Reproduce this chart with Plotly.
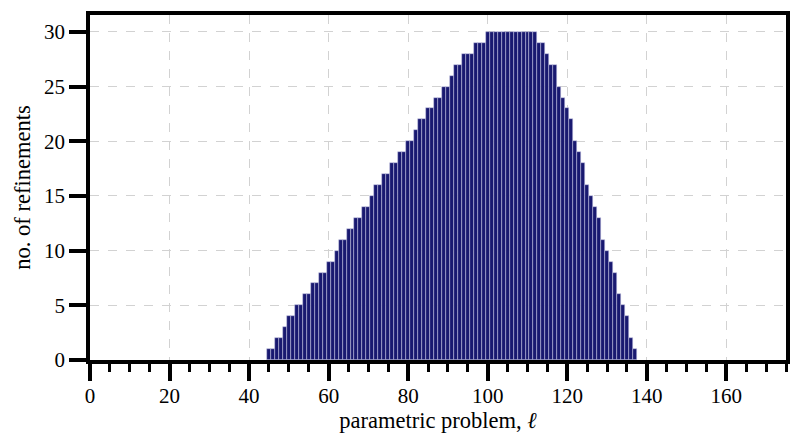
import plotly.graph_objects as go

# parametric problem index (ell) and number of refinements
ell = [45, 46, 47, 48, 49, 50, 51, 52, 53, 54, 55, 56, 57, 58, 59, 60, 61, 62, 63, 64,
       65, 66, 67, 68, 69, 70, 71, 72, 73, 74, 75, 76, 77, 78, 79, 80, 81, 82, 83, 84,
       85, 86, 87, 88, 89, 90, 91, 92, 93, 94, 95, 96, 97, 98, 99, 100, 101, 102, 103, 104,
       105, 106, 107, 108, 109, 110, 111, 112, 113, 114, 115, 116, 117, 118, 119, 120, 121, 122, 123, 124,
       125, 126, 127, 128, 129, 130, 131, 132, 133, 134, 135, 136, 137]
refinements = [1, 1, 2, 2, 3, 4, 4, 5, 5, 6, 6, 7, 7, 8, 8, 9, 9, 10, 11, 11,
               12, 12, 13, 13, 14, 14, 15, 16, 16, 17, 17, 18, 18, 19, 19, 20, 20, 21, 22, 22,
               23, 23, 24, 24, 25, 25, 26, 27, 27, 28, 28, 28, 29, 29, 29, 30, 30, 30, 30, 30,
               30, 30, 30, 30, 30, 30, 30, 30, 29, 29, 28, 27, 27, 25, 24, 23, 22, 20, 19, 18,
               16, 15, 14, 13, 11, 10, 9, 8, 6, 5, 4, 2, 1]

x_ticks = [0, 20, 40, 60, 80, 100, 120, 140, 160]
y_ticks = [0, 5, 10, 15, 20, 25, 30]

FONT = "Liberation Serif"
FS = 21
FT = 22.5

fig = go.Figure()
fig.add_trace(go.Bar(
    x=ell, y=refinements, width=1,
    marker=dict(color="#191970", line=dict(color="rgba(200,200,230,0.85)", width=0.6)),
    showlegend=False,
))

fig.update_layout(
    width=794, height=437,
    margin=dict(l=82, r=16, t=6.5, b=84.5),
    paper_bgcolor="white", plot_bgcolor="white",
    font=dict(family=FONT, size=FS, color="black"),
    bargap=0,
)

fig.update_xaxes(
    range=[0, 175], automargin=False,
    tickvals=x_ticks,
    ticks="outside", ticklen=17, tickwidth=3.5, tickcolor="black",
    ticklabelstandoff=-3,
    minor=dict(dtick=5, tick0=0, ticks="outside", ticklen=8, tickwidth=3, tickcolor="black", showgrid=False),
    showline=True, linewidth=3.5, linecolor="black", mirror=True,
    showgrid=True, gridcolor="#d2d2d2", gridwidth=1, griddash="dash",
    zeroline=False,
    title=dict(text="parametric problem, <i>ℓ</i>", font=dict(family=FONT, size=FT), standoff=3),
)
fig.update_yaxes(
    range=[0, 31.55], automargin=False,
    tickvals=y_ticks,
    ticks="outside", ticklen=17, tickwidth=3.5, tickcolor="black",
    showline=True, linewidth=3.5, linecolor="black", mirror=True,
    showgrid=True, gridcolor="#d2d2d2", gridwidth=1, griddash="dash",
    zeroline=False,
    title=dict(text="no. of refinements", font=dict(family=FONT, size=FT), standoff=8),
)

fig.write_html("out.html")
